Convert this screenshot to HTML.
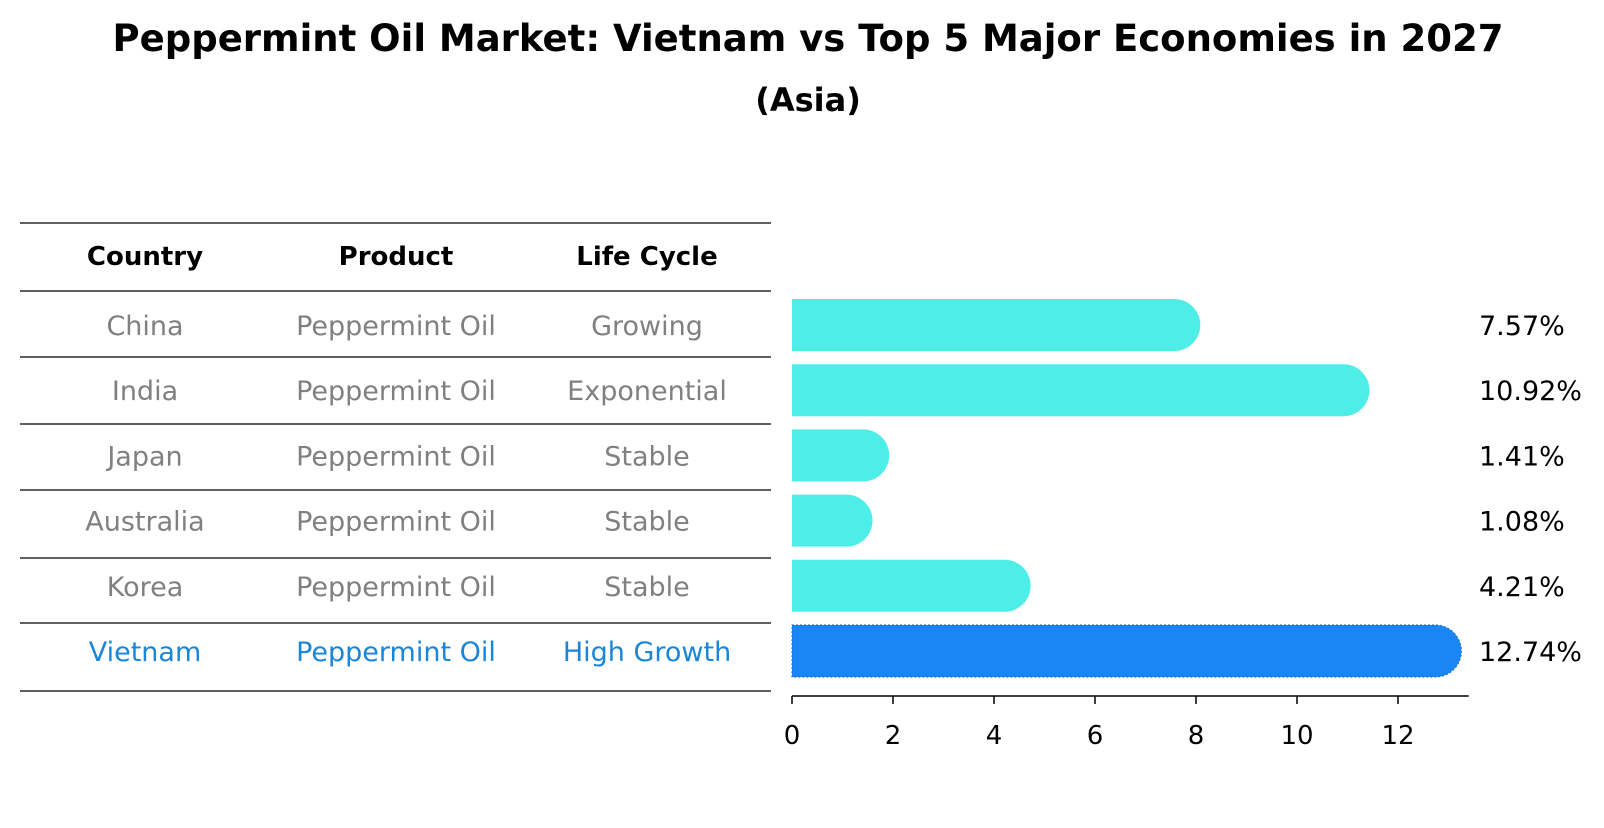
<!DOCTYPE html>
<html><head><meta charset="utf-8"><style>
body{margin:0;background:#fff;font-family:"Liberation Sans","DejaVu Sans",sans-serif;}
</style></head><body>
<svg width="1604" height="823" xmlns="http://www.w3.org/2000/svg" font-family="DejaVu Sans, Liberation Sans, sans-serif">
<text x="808" y="51" text-anchor="middle" font-size="37" font-weight="bold">Peppermint Oil Market: Vietnam vs Top 5 Major Economies in 2027</text>
<text x="808" y="111" text-anchor="middle" font-size="32" font-weight="bold">(Asia)</text>
<g id="table"></g>
<g id="bars"></g>
</svg>
<script>
const countries=["China","India","Japan","Australia","Korea","Vietnam"];
const products=["Peppermint Oil","Peppermint Oil","Peppermint Oil","Peppermint Oil","Peppermint Oil","Peppermint Oil"];
const lifeCycles=["Growing","Exponential","Stable","Stable","Stable","High Growth"];
const values=[7.57,10.92,1.41,1.08,4.21,12.74];
const xTicks=[0,2,4,6,8,10,12];
const NS="http://www.w3.org/2000/svg";
function mk(t,a,p){const e=document.createElementNS(NS,t);for(const k in a)e.setAttribute(k,a[k]);p.appendChild(e);return e;}
const x0=792,ux=50.5,xMax=13.4;
const X=v=>x0+v*ux;
const rowY=i=>325+i*65.2;
const bh=52;
const tb=document.getElementById('table');
const lines=[223,291,357,424,490,558,623,691];
lines.forEach((y,i)=>{const l=mk('line',{x1:20,x2:771,y1:y,y2:y,stroke:'#000','stroke-width':1.2},tb);

});
const cx=[145,396,647];
["Country","Product","Life Cycle"].forEach((h,j)=>{const t=mk('text',{x:cx[j],y:265,'text-anchor':'middle','font-size':26,'font-weight':'bold'},tb);t.textContent=h;

});
countries.forEach((c,i)=>{const col=i===countries.length-1?'#1a86d8':'#808080';
[c,products[i],lifeCycles[i]].forEach((s,j)=>{const t=mk('text',{x:cx[j],y:rowY(i)+10,'text-anchor':'middle','font-size':27,fill:col},tb);t.textContent=s;

});});
const bg=document.getElementById('bars');
values.forEach((v,i)=>{const hl=i===values.length-1;const col=hl?'#1a86f5':'#4deee8';
const y=rowY(i)-bh/2;
const p=mk('path',{d:`M${X(0)},${y} H${X(v)} A${bh/2},${bh/2} 0 0 1 ${X(v)},${y+bh} H${X(0)} Z`,fill:col,stroke:hl?'#1565c0':'none','stroke-dasharray':hl?'2,2':'none','stroke-width':hl?1:0},bg);


const t=mk('text',{x:1479,y:rowY(i)+10,'font-size':27},bg);t.textContent=v.toFixed(2)+'%';

});
const ax=mk('line',{x1:X(0),x2:X(xMax),y1:696,y2:696,stroke:'#000','stroke-width':1.5},bg);


xTicks.forEach(v=>{const l=mk('line',{x1:X(v),x2:X(v),y1:696,y2:704,stroke:'#000','stroke-width':1.5},bg);


const t=mk('text',{x:X(v),y:744,'text-anchor':'middle','font-size':26},bg);t.textContent=v;

});
</script>
</body></html>
